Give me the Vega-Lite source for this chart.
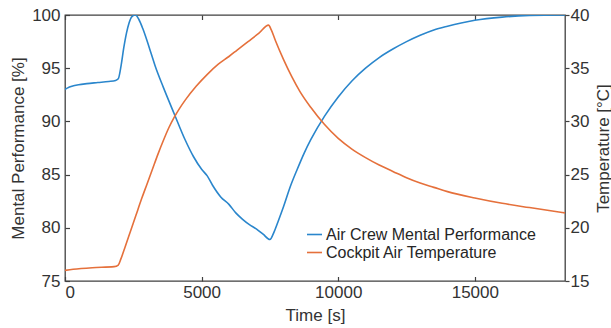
{
  "$schema": "https://vega.github.io/schema/vega-lite/v6.json",
  "autosize": {"type": "none"},
  "padding": {"left": 65, "top": 15, "right": 46, "bottom": 47},
  "width": 500,
  "height": 266,
  "background": "white",
  "config": {
    "view": {"stroke": "#404040", "strokeWidth": 1.3},
    "font": "Liberation Sans",
    "axis": {
      "grid": false,
      "domain": false,
      "labelFont": "Liberation Sans",
      "labelFontSize": 17,
      "labelColor": "#333333",
      "titleFont": "Liberation Sans",
      "titleFontSize": 17,
      "titleFontWeight": "normal",
      "titleColor": "#333333",
      "tickColor": "#404040",
      "tickWidth": 1.2
    },
    "legend": {
      "orient": "none",
      "legendX": 241,
      "legendY": 211,
      "symbolType": "stroke",
      "symbolSize": 225,
      "symbolStrokeWidth": 1.6,
      "labelFont": "Liberation Sans",
      "labelFontSize": 16,
      "labelColor": "#262626",
      "padding": 0,
      "rowPadding": 1,
      "labelOffset": 3,
      "labelLimit": 400
    }
  },
  "layer": [
    {
      "data": {"values": [
        {"t": 0, "perf": 93.0}, {"t": 100, "perf": 93.15}, {"t": 250, "perf": 93.3}, {"t": 500, "perf": 93.45},
        {"t": 800, "perf": 93.55}, {"t": 1200, "perf": 93.65}, {"t": 1600, "perf": 93.75}, {"t": 1850, "perf": 93.85},
        {"t": 1950, "perf": 94.0}, {"t": 2050, "perf": 95.2}, {"t": 2150, "perf": 96.9}, {"t": 2250, "perf": 98.3},
        {"t": 2350, "perf": 99.3}, {"t": 2450, "perf": 99.85}, {"t": 2580, "perf": 100.0}, {"t": 2700, "perf": 99.6},
        {"t": 2850, "perf": 98.7}, {"t": 3000, "perf": 97.6}, {"t": 3150, "perf": 96.4}, {"t": 3300, "perf": 95.2},
        {"t": 3600, "perf": 93.2}, {"t": 4000, "perf": 90.7}, {"t": 4400, "perf": 88.25}, {"t": 4700, "perf": 86.7},
        {"t": 5000, "perf": 85.5}, {"t": 5200, "perf": 84.9}, {"t": 5400, "perf": 84.0}, {"t": 5700, "perf": 82.9},
        {"t": 6000, "perf": 82.2}, {"t": 6250, "perf": 81.4}, {"t": 6500, "perf": 80.8}, {"t": 6750, "perf": 80.3},
        {"t": 7000, "perf": 79.9}, {"t": 7250, "perf": 79.4}, {"t": 7500, "perf": 78.9}, {"t": 7650, "perf": 79.6},
        {"t": 7800, "perf": 80.6}, {"t": 8000, "perf": 82.0}, {"t": 8250, "perf": 83.9}, {"t": 8500, "perf": 85.5},
        {"t": 8750, "perf": 87.0}, {"t": 9000, "perf": 88.3}, {"t": 9500, "perf": 90.5}, {"t": 10000, "perf": 92.3},
        {"t": 10500, "perf": 93.8}, {"t": 11000, "perf": 95.0}, {"t": 11500, "perf": 96.0}, {"t": 12000, "perf": 96.8},
        {"t": 12500, "perf": 97.5}, {"t": 13000, "perf": 98.1}, {"t": 13500, "perf": 98.6}, {"t": 14000, "perf": 98.95},
        {"t": 14500, "perf": 99.25}, {"t": 15000, "perf": 99.5}, {"t": 16000, "perf": 99.8}, {"t": 17000, "perf": 99.95},
        {"t": 18300, "perf": 100.0}
      ]},
      "mark": {"type": "line", "strokeWidth": 1.6, "interpolate": "monotone", "clip": true},
      "encoding": {
        "x": {"field": "t", "type": "quantitative",
          "scale": {"domain": [0, 18300], "nice": false, "zero": false},
          "axis": {"orient": "bottom", "values": [0, 5000, 10000, 15000], "format": "d", "tickSize": -4.5, "labelPadding": 8, "title": "Time [s]", "titleX": 250, "titleY": 34, "titleBaseline": "middle", "titleAnchor": "middle"}},
        "y": {"field": "perf", "type": "quantitative",
          "scale": {"domain": [75, 100], "nice": false, "zero": false},
          "axis": {"orient": "left", "values": [75, 80, 85, 90, 95, 100], "tickSize": -4.5, "labelPadding": 9.5, "title": "Mental Performance [%]", "titleX": -47, "titleY": 133, "titleAngle": 270, "titleBaseline": "middle", "titleAlign": "center"}},
        "color": {"datum": "Air Crew Mental Performance", "type": "nominal",
          "scale": {"domain": ["Air Crew Mental Performance", "Cockpit Air Temperature"], "range": ["#2a86cc", "#e5703b"]},
          "legend": {"title": null}}
      }
    },
    {
      "data": {"values": [
        {"t": 0, "temp": 16.0}, {"t": 300, "temp": 16.1}, {"t": 1000, "temp": 16.25}, {"t": 1800, "temp": 16.35},
        {"t": 1950, "temp": 16.5}, {"t": 2050, "temp": 17.1}, {"t": 2200, "temp": 18.2}, {"t": 2400, "temp": 19.7},
        {"t": 2600, "temp": 21.2}, {"t": 2800, "temp": 22.7}, {"t": 3000, "temp": 24.1}, {"t": 3200, "temp": 25.5},
        {"t": 3400, "temp": 26.9}, {"t": 3600, "temp": 28.2}, {"t": 3800, "temp": 29.4}, {"t": 4000, "temp": 30.4},
        {"t": 4200, "temp": 31.25}, {"t": 4400, "temp": 32.0}, {"t": 4800, "temp": 33.3}, {"t": 5200, "temp": 34.4},
        {"t": 5600, "temp": 35.35}, {"t": 6000, "temp": 36.1}, {"t": 6300, "temp": 36.7}, {"t": 6700, "temp": 37.5},
        {"t": 7100, "temp": 38.3}, {"t": 7450, "temp": 39.05}, {"t": 7550, "temp": 38.6},
        {"t": 7700, "temp": 37.6}, {"t": 8000, "temp": 35.8}, {"t": 8300, "temp": 34.2}, {"t": 8600, "temp": 32.8},
        {"t": 9000, "temp": 31.3}, {"t": 9500, "temp": 29.7}, {"t": 10000, "temp": 28.4}, {"t": 10500, "temp": 27.4},
        {"t": 11000, "temp": 26.6}, {"t": 11500, "temp": 25.9}, {"t": 12000, "temp": 25.3}, {"t": 12500, "temp": 24.7},
        {"t": 13000, "temp": 24.2}, {"t": 13500, "temp": 23.8}, {"t": 14000, "temp": 23.4}, {"t": 15000, "temp": 22.8},
        {"t": 16000, "temp": 22.3}, {"t": 17000, "temp": 21.9}, {"t": 18300, "temp": 21.4}
      ]},
      "mark": {"type": "line", "strokeWidth": 1.6, "interpolate": "monotone", "clip": true},
      "encoding": {
        "x": {"field": "t", "type": "quantitative",
          "scale": {"domain": [0, 18300], "nice": false, "zero": false},
          "axis": {"orient": "top", "values": [0, 5000, 10000, 15000], "tickSize": -4.5, "labels": false, "title": null}},
        "y": {"field": "temp", "type": "quantitative",
          "scale": {"domain": [15, 40], "nice": false, "zero": false},
          "axis": {"orient": "right", "values": [15, 20, 25, 30, 35, 40], "tickSize": 4, "labelPadding": 1, "title": "Temperature [°C]", "titleX": 38, "titleY": 133, "titleAngle": 270, "titleBaseline": "middle", "titleAlign": "center"}},
        "color": {"datum": "Cockpit Air Temperature", "type": "nominal"}
      }
    }
  ],
  "resolve": {"scale": {"y": "independent"}, "axis": {"x": "independent", "y": "independent"}}
}
